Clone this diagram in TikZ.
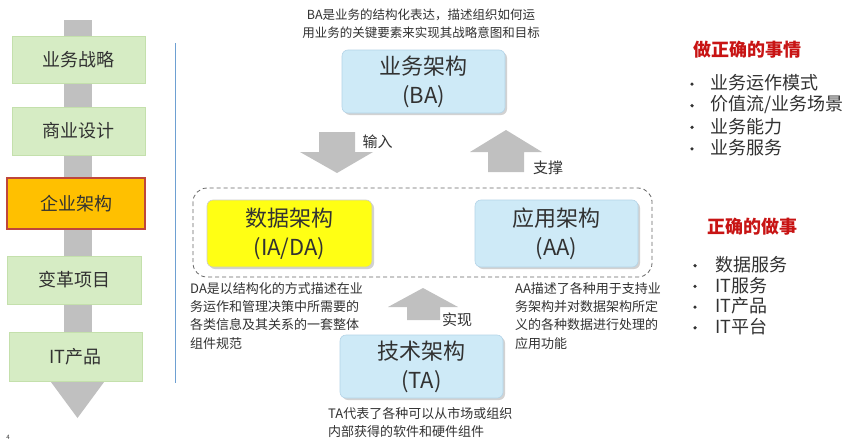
\documentclass[tikz,border=0pt]{standalone}
\usepackage{fontspec}
\setmainfont{Noto Sans CJK SC}
\usetikzlibrary{shadows}
\definecolor{greenfill}{RGB}{214,236,196}
\definecolor{greenline}{RGB}{196,224,172}
\definecolor{orangefill}{RGB}{255,192,0}
\definecolor{orangeline}{RGB}{190,70,60}
\definecolor{bluefill}{RGB}{206,234,247}
\definecolor{blueline}{RGB}{180,212,232}
\definecolor{yellowfill}{RGB}{255,255,20}
\definecolor{arrowgray}{RGB}{192,192,192}
\definecolor{txtgray}{RGB}{50,50,50}
\definecolor{redtxt}{RGB}{200,20,20}
\definecolor{vline}{RGB}{110,160,210}
\begin{document}
\begin{tikzpicture}[x=1pt,y=-1pt,
  every node/.style={text=txtgray},
  greenbox/.style={fill=greenfill,draw=greenline,line width=0.8pt,font=\fontsize{18}{20}\selectfont,inner sep=0pt},
  orangebox/.style={fill=orangefill,draw=orangeline,line width=1.2pt,font=\fontsize{18}{20}\selectfont,inner sep=0pt},
  archbox/.style={rounded corners=6pt,draw=blueline,line width=0.6pt,align=center,
    font=\fontsize{22}{29}\selectfont,inner sep=0pt,
    drop shadow={shadow xshift=2pt,shadow yshift=-2pt,opacity=0.35,fill=gray}},
  desc/.style={font=\fontsize{13}{18.3}\selectfont,align=left,inner sep=0pt,anchor=north west},
  blockarrow/.style={fill=arrowgray,draw=none},
  lbl/.style={font=\fontsize{15}{17}\selectfont,inner sep=0pt},
  heading/.style={font=\fontsize{18}{20}\selectfont\bfseries,text=redtxt,inner sep=0pt},
  item/.style={font=\fontsize{18}{20}\selectfont,inner sep=0pt,anchor=west},
  bullet/.style={fill=txtgray,circle,inner sep=0pt,minimum size=3.6pt}
]
\useasboundingbox (0,0) rectangle (850,447);
\fill[white] (0,0) rectangle (850,447);

% left column flow
\fill[arrowgray] (64,20) rectangle (92,379);
\fill[arrowgray] (48,378) -- (107,378) -- (77.5,418) -- cycle;
\node[greenbox,minimum width=133pt,minimum height=47pt] (s1) at (78.5,59.5) {业务战略};
\node[greenbox,minimum width=133pt,minimum height=48pt] (s2) at (78.5,131) {商业设计};
\node[orangebox,minimum width=138pt,minimum height=51pt] (s3) at (76,203.5) {企业架构};
\node[greenbox,minimum width=134pt,minimum height=48pt] (s4) at (74,280) {变革项目};
\node[greenbox,minimum width=133pt,minimum height=49pt] (s5) at (75.5,356.5) {IT产品};
\node[font=\fontsize{6}{7}\selectfont,inner sep=0pt] (pg) at (8,437) {4};

\draw[vline,line width=1pt] (175,43) -- (175,383);

% top description
\node[font=\fontsize{12.5}{18}\selectfont,align=center,inner sep=0pt] (batxt) at (421,24)
  {BA是业务的结构化表达，描述组织如何运\\用业务的关键要素来实现其战略意图和目标};

% dashed group
\draw[dashed,dash pattern=on 4pt off 3pt,draw=gray!80!black,line width=0.8pt,rounded corners=14pt]
  (193,188) rectangle (652,277);

% architecture boxes
\node[archbox,fill=bluefill,minimum width=163pt,minimum height=63pt] (ba) at (423.5,81.5) {业务架构\\(BA)};
\node[archbox,fill=yellowfill,draw=gray!40,minimum width=165pt,minimum height=67pt] (da) at (289.5,233.5) {数据架构\\(IA/DA)};
\node[archbox,fill=bluefill,minimum width=163pt,minimum height=67pt] (aa) at (556.5,233.5) {应用架构\\(AA)};
\node[archbox,fill=bluefill,minimum width=163pt,minimum height=63pt] (ta) at (421.5,366.5) {技术架构\\(TA)};

% block arrows
\fill[blockarrow] (319,132) -- (355,132) -- (355,152) -- (373,152) -- (337,173) -- (300,152) -- (319,152) -- cycle;
\node[lbl] (in) at (377.5,142) {输入};
\fill[blockarrow] (488,172) -- (524,172) -- (524,152) -- (542,152) -- (506,130) -- (470,152) -- (488,152) -- cycle;
\node[lbl] (sup) at (548,168) {支撑};
\fill[blockarrow] (407,320) -- (440,320) -- (440,307) -- (458,307) -- (423,288) -- (388,307) -- (407,307) -- cycle;
\node[lbl] (impl) at (457,320) {实现};

% descriptions
\node[desc] (datxt) at (190,282) {DA是以结构化的方式描述在业\\务运作和管理决策中所需要的\\各类信息及其关系的一套整体\\组件规范};
\node[desc] (aatxt) at (515,282) {AA描述了各种用于支持业\\务架构并对数据架构所定\\义的各种数据进行处理的\\应用功能};
\node[desc] (tatxt) at (328,407) {TA代表了各种可以从市场或组织\\内部获得的软件和硬件组件};

% right lists
\node[heading] (h1) at (747,50) {做正确的事情};
\foreach \t [count=\i] in {业务运作模式,价值流/业务场景,业务能力,业务服务}{
  \node[bullet] (b1\i) at (692,62.5+21.6*\i) {};
  \node[item] (i1\i) at (710,61.5+21.6*\i) {\t};
}
\node[heading] (h2) at (752,227) {正确的做事};
\foreach \t [count=\i] in {数据服务,IT服务,IT产品,IT平台}{
  \node[bullet] (b2\i) at (695,245+20.7*\i) {};
  \node[item] (i2\i) at (715,244+20.7*\i) {\t};
}
\end{tikzpicture}
\end{document}
